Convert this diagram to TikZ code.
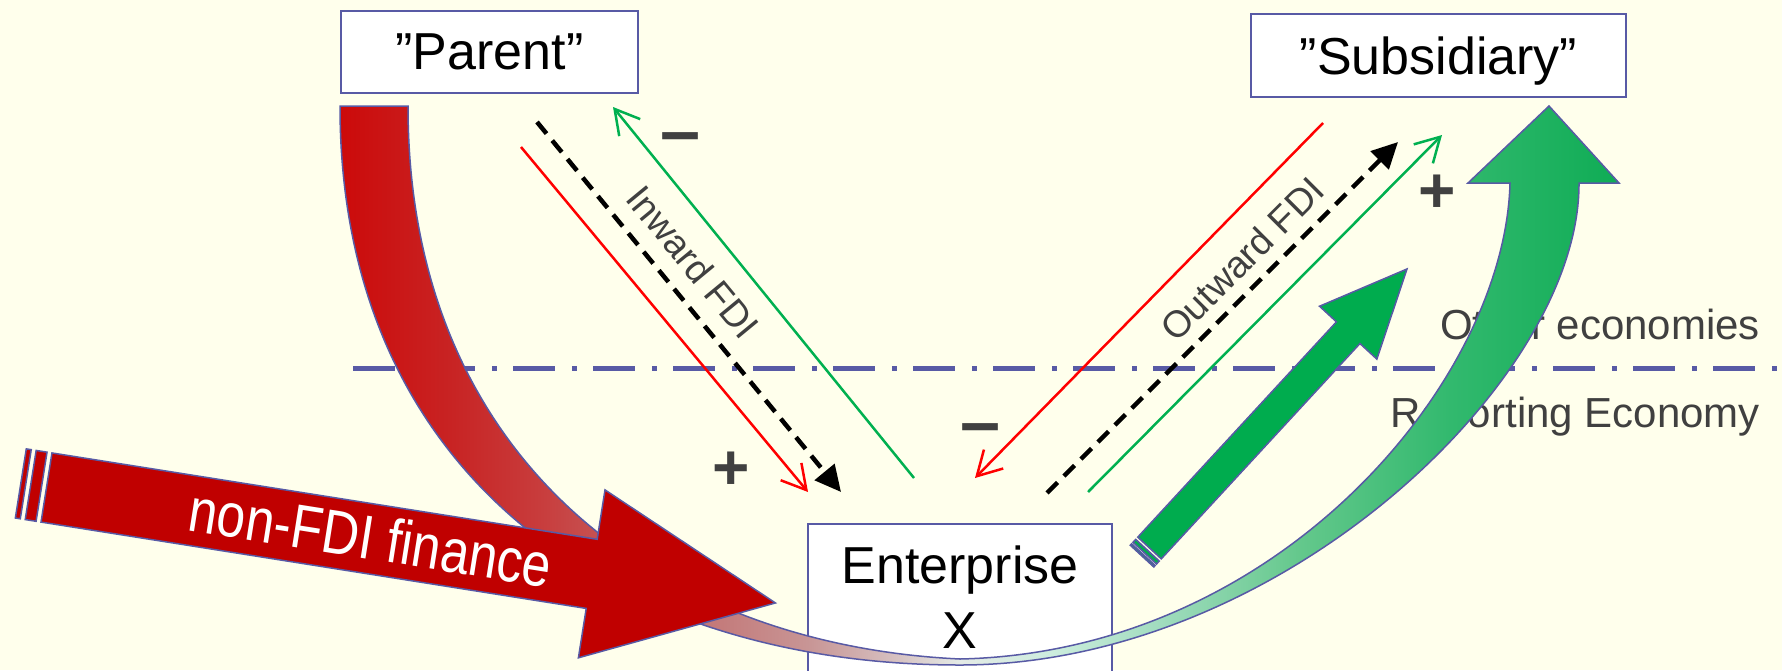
\documentclass[tikz,border=0pt]{standalone}
\usepackage{fontspec}
\usepackage{graphicx}
\setmainfont{Liberation Sans}
\usetikzlibrary{arrows.meta}
\definecolor{bg}{RGB}{255,255,236}
\definecolor{edge}{RGB}{88,90,165}
\definecolor{txtgray}{RGB}{64,64,64}
\definecolor{fdired}{RGB}{192,0,0}
\definecolor{sgreen}{RGB}{0,172,78}
\definecolor{lred}{RGB}{255,0,0}
\definecolor{lgreen}{RGB}{0,176,80}
\definecolor{ua}{RGB}{204,10,10}
\definecolor{ub}{RGB}{200,35,35}
\definecolor{uc}{RGB}{200,60,60}
\definecolor{ud}{RGB}{195,118,118}
\definecolor{ue}{RGB}{200,150,150}
\definecolor{uf}{RGB}{215,195,195}
\definecolor{ug}{RGB}{228,234,230}
\definecolor{uh}{RGB}{205,237,222}
\definecolor{ui}{RGB}{160,220,190}
\definecolor{uj}{RGB}{100,200,140}
\definecolor{uk}{RGB}{50,185,110}
\definecolor{ul}{RGB}{15,172,85}
\pgfdeclarehorizontalshading{ushade}{100bp}{color(0bp)=(ua); color(25bp)=(ua); color(29.3bp)=(ub); color(32.8bp)=(uc); color(39.1bp)=(ud); color(43.4bp)=(ue); color(46.9bp)=(uf); color(49.2bp)=(ug); color(52.8bp)=(uh); color(57.1bp)=(ui); color(62.5bp)=(uj); color(68.4bp)=(uk); color(75bp)=(ul); color(100bp)=(ul)}
\tikzset{
  boxst/.style={draw=edge, line width=2pt, fill=white, inner sep=0pt, font=\fontsize{52}{52}\selectfont},
  boxtxt/.style={inner sep=0pt, font=\fontsize{52}{52}\selectfont},
  region/.style={inner sep=0pt, text=txtgray, font=\fontsize{42}{42}\selectfont},
  fdilbl/.style={inner sep=0pt, text=txtgray, font=\fontsize{37.5}{37.5}\selectfont},
  sign/.style={inner sep=0pt, text=txtgray, font=\fontsize{64}{64}\selectfont\bfseries},
  minussign/.style={inner sep=0pt, text=txtgray, font=\fontsize{72}{72}\selectfont\bfseries},
  uband/.style={shading=ushade, shading angle=0, draw=edge, line width=1.5pt},
  nonfdi/.style={fill=fdired, draw=edge, line width=1.5pt, line join=miter},
  sgarrow/.style={fill=sgreen, draw=edge, line width=1.5pt, line join=miter},
  redl/.style={draw=lred, line width=2.5pt, -{Straight Barb[length=24pt,width=27pt]}},
  greenl/.style={draw=lgreen, line width=2.5pt, -{Straight Barb[length=24pt,width=27pt]}},
  blackd/.style={draw=black, line width=4.5pt, dash pattern=on 15pt off 9pt, -{Triangle[length=26pt,width=25pt]}},
  dashdotl/.style={draw=edge, line width=5pt, dash pattern=on 42pt off 17pt on 5pt off 16pt}
}
\begin{document}
\begin{tikzpicture}[x=1pt,y=-1pt]
\useasboundingbox (0,0) rectangle (1782,670);
\clip (0,0) rectangle (1782,670);
\fill[bg] (0,0) rectangle (1782,670);
% boundary between economies
\coordinate (bl) at (353,368);
\coordinate (br) at (1790,368);
\draw[dashdotl] (bl) -- (br);
\node[region, anchor=base east] (other) at (1760,339) {Other economies};
\node[region, anchor=base east] (rep) at (1760,427) {Reporting Economy};
% enterprise box
\node[boxst, anchor=north, minimum width=304pt, minimum height=220pt] (ent) at (960,523) {};
\node[boxtxt, anchor=base] (entA) at (960,583) {Enterprise};
\node[boxtxt, anchor=base] (entB) at (960,648) {X};
% big U-shaped flow
\shadedraw[uband] (340,106) .. controls (340,480) and (620,665) .. (960,665)
  .. controls (1280,665) and (1580,380) .. (1579,183)
  -- (1619,183) -- (1549,106) -- (1468,183) -- (1510,183)
  .. controls (1505,380) and (1280,652) .. (960,659)
  .. controls (660,645) and (408,460) .. (408,106) -- cycle;
% non-FDI finance arrow
\begin{scope}[shift={(46.5,487.5)}, rotate=-9]
  \filldraw[nonfdi] (0,-35) -- (552,-35) -- (552,-85) -- (738,0) -- (552,85) -- (552,35) -- (0,35) -- cycle;
  \filldraw[nonfdi] (-16,-35) rectangle (-5,35);
  \filldraw[nonfdi] (-26,-35) rectangle (-21,35);
\end{scope}
\node[rotate=-9, inner sep=0pt, text=white, font=\fontsize{62}{62}\selectfont] (nfdi) at (371,537) {\scalebox{0.83}[1]{non-FDI finance}};
% small green arrow
\begin{scope}[shift={(1149.5,548)}, rotate=47.3]
  \filldraw[sgarrow] (0,-16) -- (293,-16) -- (293,-39) -- (379.7,0) -- (293,39) -- (293,16) -- (0,16) -- cycle;
  \filldraw[sgarrow] (-7,-16) rectangle (-3,16);
  \filldraw[sgarrow] (-11,-16) rectangle (-9,16);
\end{scope}
% parent and subsidiary
\node[boxst, anchor=north west, minimum width=297pt, minimum height=82pt] (parent) at (340,10) {”Parent”};
\node[boxst, anchor=north west, minimum width=375pt, minimum height=83pt, text depth=0pt] (subs) at (1250,13) {”Subsidiary”};
% inward FDI lines
\coordinate (ira) at (521,147); \coordinate (irb) at (808,492);
\coordinate (iba) at (537,122); \coordinate (ibb) at (841,492);
\coordinate (iga) at (914,478); \coordinate (igb) at (613,107);
\draw[redl] (ira) -- (irb);
\draw[blackd] (iba) -- (ibb);
\draw[greenl] (iga) -- (igb);
% outward FDI lines
\coordinate (ora) at (1323,123); \coordinate (orb) at (975,478);
\coordinate (oba) at (1047,493); \coordinate (obb) at (1398,142);
\coordinate (oga) at (1088,492); \coordinate (ogb) at (1442,135);
\draw[redl] (ora) -- (orb);
\draw[blackd] (oba) -- (obb);
\draw[greenl] (oga) -- (ogb);
% labels
\node[fdilbl, rotate=-50.5] (inw) at (693,262) {Inward FDI};
\node[fdilbl, rotate=45] (outw) at (1242,259) {Outward FDI};
\node[minussign] (m1) at (681,144) {–};
\node[sign] (p1) at (731,471) {+};
\node[minussign] (m2) at (981,435) {–};
\node[sign] (p2) at (1437,194) {+};
\end{tikzpicture}
\end{document}
